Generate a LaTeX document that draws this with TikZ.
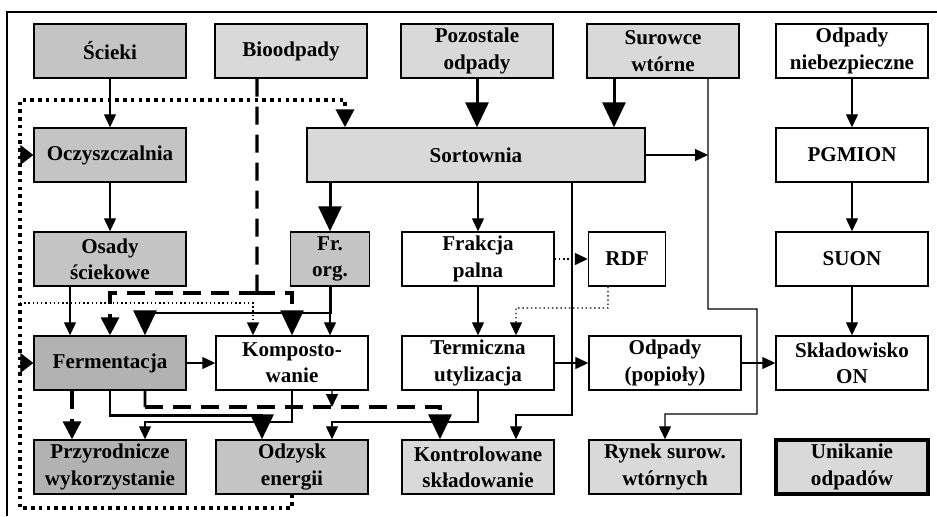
\documentclass[tikz,border=0pt]{standalone}
\usepackage{fontspec}
\setmainfont{Liberation Serif}
\usetikzlibrary{calc}
\usetikzlibrary{positioning}
\usetikzlibrary{arrows.meta}

\definecolor{shdark}{gray}{0.70}
\definecolor{shmid}{gray}{0.77}
\definecolor{shlight}{gray}{0.85}

\tikzset{
  box/.style={draw, line width=0.8pt, minimum width=30.4mm, minimum height=10.8mm,
    inner sep=1pt, align=center, font=\bfseries\fontsize{12}{15}\selectfont},
  arr/.style={-{Triangle[length=2.6mm,width=2.4mm]}},
  midarr/.style={-{Triangle[length=3.6mm,width=3.6mm]}},
  bigarr/.style={-{Triangle[length=5mm,width=4.6mm]}},
  thinline/.style={line width=0.7pt},
  thickline/.style={line width=1.7pt},
  dashline/.style={line width=1.8pt, dash pattern=on 3.6mm off 2mm},
  dotloop/.style={line width=2pt, dash pattern=on 2pt off 2.4pt},
  dotfine/.style={line width=0.8pt, dash pattern=on 0.8pt off 1.6pt},
}

\begin{document}
\begin{tikzpicture}[x=0.2mm, y=-0.2mm]
\useasboundingbox (0,0) rectangle (937,516);

% frame
\draw[line width=0.8pt] (7,516) -- (7,12) -- (937,12);

% row 1
\node[box, fill=shmid] (scieki) at (110, 51) {Ścieki};
\node[box, fill=shlight] (bio) at (291, 51) {Bioodpady};
\node[box, fill=shlight] (pozost) at (477, 51) {Pozostale\\odpady};
\node[box, fill=shlight] (surow) at (663, 51) {Surowce\\wtórne};
\node[box] (niebez) at (852, 51) {Odpady\\niebezpieczne};

% row 2
\node[box, fill=shmid] (oczysz) at (110, 155) {Oczyszczalnia};
\node[box, fill=shlight, minimum width=67.6mm] (sort) at (476, 155) {Sortownia};
\node[box] (pgmion) at (852, 155) {PGMION};

% row 3
\node[box, fill=shmid] (osady) at (110, 259) {Osady\\ściekowe};
\node[box, fill=shmid, minimum width=15.8mm] (frorg) at (330, 259) {Fr.\\org.};
\node[box] (frpal) at (478, 259) {Frakcja\\palna};
\node[box, minimum width=15.4mm] (rdf) at (627, 259) {RDF};
\node[box] (suon) at (852, 259) {SUON};

% row 4
\node[box, fill=shdark] (ferm) at (110, 363) {Fermentacja};
\node[box] (kompost) at (292, 363) {Komposto-\\wanie};
\node[box] (termik) at (478, 363) {Termiczna\\utylizacja};
\node[box] (popioly) at (665, 363) {Odpady\\(popioły)};
\node[box] (sklad) at (852, 363) {Składowisko\\ON};

% row 5
\node[box, fill=shdark] (przyr) at (110, 467) {Przyrodnicze\\wykorzystanie};
\node[box, fill=shmid] (odzysk) at (292, 467) {Odzysk\\energii};
\node[box, fill=shlight] (kontrol) at (478, 467) {Kontrolowane\\składowanie};
\node[box, fill=shlight] (rynek) at (665, 467) {Rynek surow.\\wtórnych};
\node[box, fill=shlight, line width=1.8pt] (unik) at (852, 467) {Unikanie\\odpadów};

% turning points
\coordinate (looptl) at (20,100);
\coordinate (loopbl) at (20,508);
\coordinate (fd) at (20,303);
\coordinate (bsplit) at (257,293);
\coordinate (fsplit) at (330,313);
\coordinate (sv1) at (708,309);
\coordinate (sv2) at (757,309);
\coordinate (sv3) at (757,414);
\coordinate (sk) at (572,415);
\coordinate (rt) at (608,308);
\coordinate (to) at (478,422);
\coordinate (fo) at (110,415);
\coordinate (fk) at (145,407);
\coordinate (kp) at (292,422);
\coordinate (kd) at (332,407);

% sewage column
\draw[thinline, arr] (scieki) -- (oczysz);
\draw[thinline, arr] (oczysz) -- (osady);
\draw[thinline, arr] ([xshift=-8mm]osady.south) -- ([xshift=-8mm]ferm.north);

% biowaste (dashed)
\draw[dashline] ([xshift=-6.8mm]bio.south) -- (bsplit);
\draw[dashline, midarr] (bsplit) -| (ferm.north);
\draw[dashline, bigarr] (bsplit) -| (kompost.north);

% return loop (dotted)
\draw[dotloop, midarr] (odzysk.south) |- (loopbl) -- (looptl) -| ([xshift=-26.2mm]sort.north);
\draw[thinline, -{Triangle[length=2.6mm,width=4mm]}] (looptl |- oczysz.west) -- (oczysz.west);
\draw[thinline, -{Triangle[length=2.6mm,width=4mm]}] (looptl |- ferm.west) -- (ferm.west);
\draw[dotfine, arr] (fd) -| ([xshift=-7.8mm]kompost.north);

% sorting plant
\draw[thickline, bigarr] (pozost.south) -- (pozost.south |- sort.north);
\draw[thickline, bigarr] ([xshift=-9.8mm]surow.south) -- ([xshift=-9.8mm]surow.south |- sort.north);
\draw[thickline, bigarr] (frorg.north |- sort.south) -- (frorg.north);
\draw[thinline, arr] (frpal.north |- sort.south) -- (frpal.north);
\draw[thinline, arr] (sort.east) -- (sort.east -| sv1);
\draw[thinline, arr] ([xshift=9mm]surow.south) -- (sv1) -- (sv2) -- (sv3) -| (rynek.north);
\draw[thinline, arr] (sk |- sort.south) -- (sk) -| ([xshift=7.6mm]kontrol.north);

% organic fraction
\draw[thickline, bigarr] (frorg.south) -- (fsplit) -| ([xshift=7mm]ferm.north);
\draw[thinline, arr] (fsplit) -- (fsplit |- kompost.north);

% combustible fraction
\draw[dotfine, arr] (frpal.east) -- (rdf.west);
\draw[dotfine, arr] ([xshift=-3.8mm]rdf.south) -- (rt) -| ([xshift=7.6mm]termik.north);
\draw[thinline, arr] (frpal) -- (termik);
\draw[thinline, arr] (termik.east) -- (popioly.west);
\draw[thinline, arr] (termik.south) -- (to) -| ([xshift=8mm]odzysk.north);

% hazardous waste
\draw[thinline, arr] (niebez) -- (pgmion);
\draw[thinline, arr] (pgmion) -- (suon);
\draw[thinline, arr] (suon) -- (sklad);
\draw[thinline, arr] (popioly.east) -- (sklad.west);

% fermentation and composting outputs
\draw[thinline, arr] (ferm.east) -- (kompost.west);
\draw[dashline, midarr] ([xshift=-7.6mm]ferm.south) -- ([xshift=-7.6mm]ferm.south |- przyr.north);
\draw[thickline, bigarr] (ferm.south) -- (fo) -| ([xshift=-6mm]odzysk.north);
\draw[thickline] ([xshift=7mm]ferm.south) -- (fk);
\draw[dashline, bigarr] (fk) -| ([xshift=-7.6mm]kontrol.north);
\draw[thinline, arr] (kompost.south) -- (kp) -| ([xshift=7mm]przyr.north);
\draw[thinline, arr] ([xshift=8mm]kompost.south) -- (kd);

\end{tikzpicture}
\end{document}
